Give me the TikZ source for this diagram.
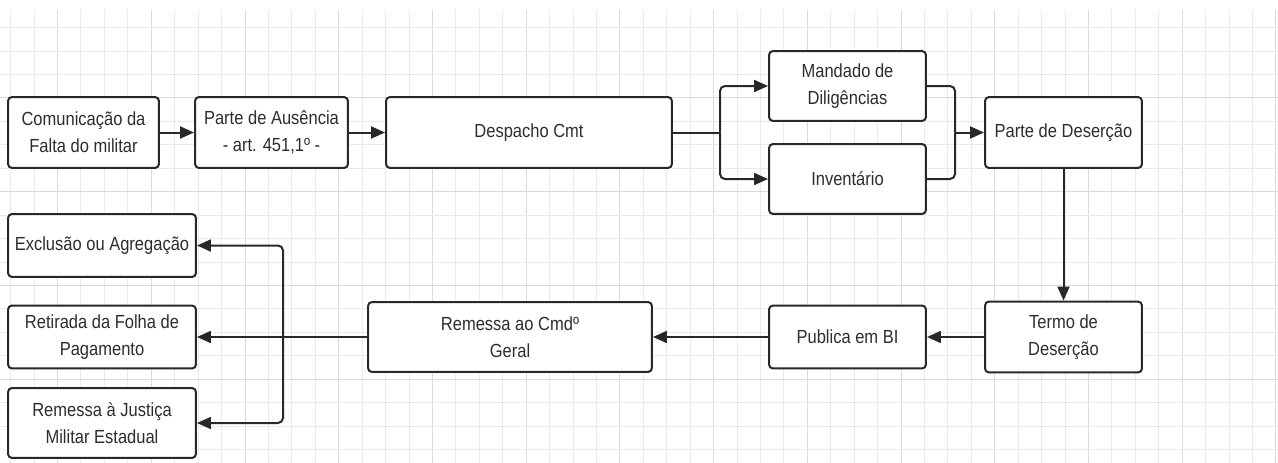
\documentclass[tikz,border=0pt]{standalone}
\usepackage{fontspec}
\setmainfont{Liberation Sans}[FakeStretch=0.87]
\usepackage{xcolor}
\usepackage{tikz}
\definecolor{gridlight}{RGB}{234, 234, 234}
\definecolor{griddark}{RGB}{218, 218, 218}
\definecolor{boxline}{RGB}{40, 40, 40}
\definecolor{boxtext}{RGB}{45, 45, 45}
\usetikzlibrary{arrows.meta,positioning}
\tikzset{
    stepbox/.style={draw=boxline, line width=0.04cm, rounded corners=0.08cm, fill=white, text=boxtext, align=center, inner sep=0pt, font=\fontsize{10.8}{15.4}\selectfont},
    link/.style={-{Triangle[length=0.28cm, width=0.24cm]}, line width=0.04cm, boxline, rounded corners=0.1cm},
    wire/.style={line width=0.04cm, boxline, rounded corners=0.1cm}
}

\begin{document}
\begin{tikzpicture}[x=0.02cm, y=-0.02cm]
    \useasboundingbox (0,0) rectangle (1278,463);
    \fill[white] (0,0) rectangle (1278,463);
    % grid paper
    \foreach \k in {0,...,54} {
        \pgfmathtruncatemacro{\m}{mod(\k,4)}
        \ifnum\m=2 \def\gc{griddark}\else\def\gc{gridlight}\fi
        \draw[\gc, line width=0.02cm] ({10.7+23.43*\k},10) -- ({10.7+23.43*\k},463);
    }
    \foreach \j in {0,...,18} {
        \pgfmathtruncatemacro{\m}{mod(\j,4)}
        \ifnum\m=3 \def\gc{griddark}\else\def\gc{gridlight}\fi
        \draw[\gc, line width=0.02cm] (0,{27.7+23.43*\j}) -- (1278,{27.7+23.43*\j});
    }

    % top row
    \node[stepbox, minimum width=3.02cm, minimum height=1.42cm] (com) at (83.5,132.5) {Comunicação da\\Falta do militar};
    \node[stepbox, minimum width=3.06cm, minimum height=1.42cm] (aus) at (271.5,132.5) {Parte de Ausência\\- art. 451,1º -};
    \node[stepbox, minimum width=5.72cm, minimum height=1.42cm] (desp) at (529,132.5) {Despacho Cmt};
    \node[stepbox, minimum width=3.14cm, minimum height=1.40cm] (mand) at (847.5,86) {Mandado de\\Diligências};
    \node[stepbox, minimum width=3.14cm, minimum height=1.40cm] (inv) at (847.5,179) {Inventário};
    \node[stepbox, minimum width=3.14cm, minimum height=1.42cm] (pdes) at (1063.5,132.5) {Parte de Deserção};

    % bottom row
    \node[stepbox, minimum width=3.14cm, minimum height=1.42cm] (termo) at (1063.5,337) {Termo de\\Deserção};
    \node[stepbox, minimum width=3.14cm, minimum height=1.26cm] (pub) at (847.5,337) {Publica em BI};
    \node[stepbox, minimum width=5.68cm, minimum height=1.40cm] (rcmd) at (510,337) {Remessa ao Cmdº\\Geral};
    \node[stepbox, minimum width=3.76cm, minimum height=1.26cm] (excl) at (102,245.5) {Exclusão ou Agregação};
    \node[stepbox, minimum width=3.76cm, minimum height=1.26cm] (ret) at (102,337) {Retirada da Folha de\\Pagamento};
    \node[stepbox, minimum width=3.76cm, minimum height=1.40cm] (just) at (102,423) {Remessa à Justiça\\Militar Estadual};

    \coordinate (split) at (720,132.5);
    \coordinate (merge) at (955,132.5);
    \coordinate (fork) at (283,337);

    \draw[link] (com) -- (aus);
    \draw[link] (aus) -- (desp);
    \draw[wire] (desp.east) -- (split);
    \draw[link] (split) |- (mand.west);
    \draw[link] (split) |- (inv.west);
    \draw[wire] (mand.east) -| (merge);
    \draw[wire] (inv.east) -| (merge);
    \draw[link] (merge) -- (pdes.west);
    \draw[link] (pdes) -- (termo);
    \draw[link] (termo) -- (pub);
    \draw[link] (pub) -- (rcmd);
    \draw[link] (rcmd) -- (ret);
    \draw[link] (fork) |- (excl.east);
    \draw[link] (fork) |- (just.east);
\end{tikzpicture}
\end{document}
